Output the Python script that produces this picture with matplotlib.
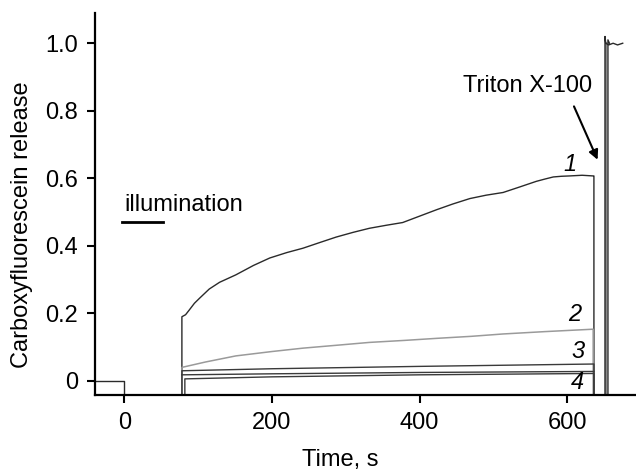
import matplotlib
matplotlib.use("Agg")
import matplotlib.pyplot as plt

plt.rcParams['font.family'] = ['Liberation Sans', 'DejaVu Sans']
plt.rcParams['font.size'] = 17

# baseline before illumination
t_base = [-40, 0, 0]
y_base = [0.0, 0.0, -0.1]

# trace 1
t1 = [78, 78, 83, 88, 95, 102, 115, 129, 140, 151, 175, 197, 220, 242, 265, 287, 310, 332, 355, 377,
      400, 423, 445, 468, 490, 513, 535, 558, 570, 581, 592, 603, 620, 635, 636, 636]
y1 = [-0.1, 0.19, 0.196, 0.21, 0.23, 0.245, 0.272, 0.292, 0.303, 0.314, 0.342, 0.364, 0.38, 0.393,
      0.41, 0.426, 0.44, 0.452, 0.461, 0.469, 0.488, 0.507, 0.524, 0.54, 0.55, 0.558, 0.574, 0.591,
      0.598, 0.604, 0.606, 0.607, 0.609, 0.607, 0.607, -0.1]

# trace 2 (grey)
t2 = [78, 78, 110, 151, 200, 242, 290, 332, 380, 423, 470, 513, 570, 634, 635, 635]
y2 = [-0.1, 0.04, 0.056, 0.074, 0.087, 0.097, 0.106, 0.114, 0.12, 0.126, 0.132, 0.139, 0.146, 0.153,
      0.153, -0.1]

# trace 3
t3 = [78, 78, 200, 400, 636, 636]
y3 = [-0.1, 0.03, 0.036, 0.043, 0.05, -0.1]
t3b = [78, 200, 400, 636]
y3b = [0.018, 0.021, 0.025, 0.028]

# trace 4
t4 = [82, 82, 200, 400, 636, 636]
y4 = [-0.1, 0.006, 0.012, 0.018, 0.022, -0.1]

# Triton X-100 step
t_tr1 = [651, 651, 652, 656, 662, 668, 675]
y_tr1 = [-0.1, 1.02, 1.0, 0.995, 1.0, 0.995, 1.0]
t_tr2 = [655, 655, 657]
y_tr2 = [-0.1, 1.01, 1.0]
t_tr3 = [653, 653]
y_tr3 = [-0.1, 1.0]

fig = plt.figure(figsize=(6.36, 4.76), dpi=100)
ax = fig.add_axes([0.149, 0.170, 0.851, 0.803])

dark = '#2a2a2a'
ax.plot(t_base, y_base, color=dark, lw=1)
ax.plot(t1, y1, color=dark, lw=1)
ax.plot(t2, y2, color='#9a9a9a', lw=1.1)
ax.plot(t3, y3, color='#3a3a3a', lw=1)
ax.plot(t3b, y3b, color='#3a3a3a', lw=1)
ax.plot(t4, y4, color='#3a3a3a', lw=1)
ax.plot(t_tr3, y_tr3, color='#8a8a8a', lw=1.5)
ax.plot(t_tr1, y_tr1, color=dark, lw=1)
ax.plot(t_tr2, y_tr2, color=dark, lw=1)

# illumination bar
ax.plot([-3, 53], [0.472, 0.472], color='black', lw=2)
ax.text(0, 0.502, 'illumination', ha='left', va='baseline')

# curve labels
ax.text(603, 0.64, '1', style='italic', ha='center', va='center')
ax.text(610, 0.196, '2', style='italic', ha='center', va='center')
ax.text(614, 0.087, '3', style='italic', ha='center', va='center')
ax.text(614, -0.006, '4', style='italic', ha='center', va='center')

ax.text(633, 0.857, 'Triton X-100', ha='right', va='baseline')
ax.annotate('', xy=(641, 0.655), xytext=(609, 0.813),
            arrowprops=dict(arrowstyle='-|>', color='black', lw=1.5,
                            mutation_scale=14, shrinkA=0, shrinkB=0))

ax.set_xlim(-40, 693)
ax.set_ylim(-0.042, 1.09)
ax.set_xticks([0, 200, 400, 600])
ax.set_yticks([0, 0.2, 0.4, 0.6, 0.8, 1.0])
ax.set_yticklabels(['0', '0.2', '0.4', '0.6', '0.8', '1.0'])
for s in ['top', 'right']:
    ax.spines[s].set_visible(False)
for s in ['left', 'bottom']:
    ax.spines[s].set_linewidth(1.6)
ax.tick_params(direction='out', length=6, width=1.5, pad=6)

fig.text(340 / 636, 0.021, 'Time, s', ha='center', va='baseline')
fig.text(0.035, 0.527, 'Carboxyfluorescein release', rotation=90, ha='center', va='center')

fig.savefig('out.png', dpi=100)
